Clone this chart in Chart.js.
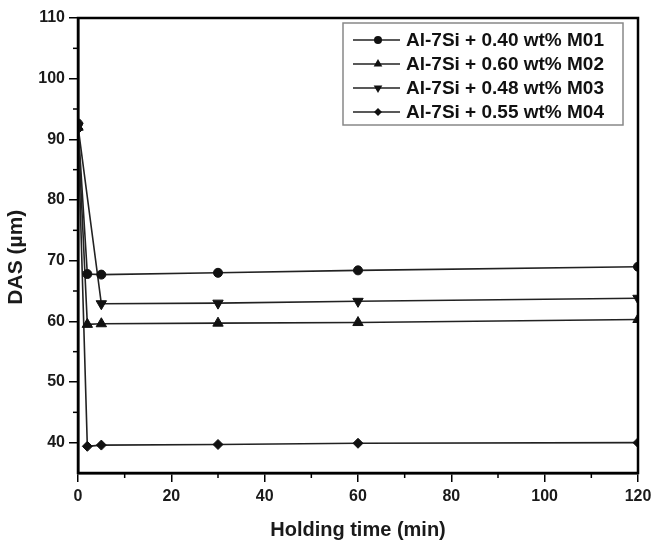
<!DOCTYPE html>
<html>
<head>
<meta charset="utf-8">
<script src="https://cdn.jsdelivr.net/npm/chart.js@4"></script>
<style>
  html, body { margin: 0; padding: 0; background: #fff; }
  #wrap { width: 661px; height: 540px; }
</style>
</head>
<body>
<div id="wrap"><canvas id="grafico"></canvas></div>
<script>
// datos
const tiempos = [0, 2, 5, 30, 60, 120];
const tiemposM03 = [0, 5, 30, 60, 120];
const dasM01 = [92.6, 67.8, 67.7, 68.0, 68.4, 69.0];
const dasM02 = [92.0, 59.5, 59.6, 59.7, 59.8, 60.3];
const dasM03 = [92.2, 62.9, 63.0, 63.3, 63.8];
const dasM04 = [91.7, 39.4, 39.6, 39.7, 39.9, 40.0];
const etiquetas = ['Al-7Si + 0.40 wt% M01', 'Al-7Si + 0.60 wt% M02', 'Al-7Si + 0.48 wt% M03', 'Al-7Si + 0.55 wt% M04'];
const ticksX = [0, 20, 40, 60, 80, 100, 120];
const ticksY = [40, 50, 60, 70, 80, 90, 100, 110];

const fuente = '"Liberation Sans", Arial, sans-serif';

function puntos(xs, ys) {
    return xs.map((x, i) => ({x: x, y: ys[i]}));
}

function serie(label, xs, ys, estilo, radio, rot) {
    return {
        label: label,
        data: puntos(xs, ys),
        borderColor: '#222',
        backgroundColor: '#111',
        pointBorderColor: '#111',
        borderWidth: 1.6,
        pointBorderWidth: 1,
        pointStyle: estilo,
        rotation: rot || 0,
        pointRadius: radio,
        clip: 0,
        tension: 0,
        fill: false
    };
}

// marcas menores, caja del grafico y leyenda
const extras = {
    id: 'extras',
    afterDraw(chart) {
        const c = chart.ctx;
        const a = chart.chartArea;
        const sx = chart.scales.x, sy = chart.scales.y;
        c.save();
        c.strokeStyle = '#000';
        c.lineWidth = 1.5;
        // minor ticks
        for (let v = 10; v < 120; v += 20) {
            const px = sx.getPixelForValue(v);
            c.beginPath(); c.moveTo(px, a.bottom); c.lineTo(px, a.bottom + 5); c.stroke();
        }
        for (let v = 45; v < 110; v += 10) {
            const py = sy.getPixelForValue(v);
            c.beginPath(); c.moveTo(a.left, py); c.lineTo(a.left - 5, py); c.stroke();
        }
        // caja
        c.lineWidth = 2.5;
        c.strokeRect(a.left, a.top, a.right - a.left, a.bottom - a.top);

        // leyenda
        const bx = 343, by = 23, bw = 280, bh = 102;
        c.fillStyle = '#fff';
        c.fillRect(bx, by, bw, bh);
        c.strokeStyle = '#888';
        c.lineWidth = 1.5;
        c.strokeRect(bx, by, bw, bh);
        c.font = 'bold 19px ' + fuente;
        c.textBaseline = 'middle';
        chart.data.datasets.forEach((ds, i) => {
            const y = by + 17 + i * 24;
            c.strokeStyle = '#222';
            c.lineWidth = 1.5;
            c.beginPath(); c.moveTo(bx + 10, y); c.lineTo(bx + 57, y); c.stroke();
            c.fillStyle = '#111';
            const r = ds.pointStyle === 'triangle' ? 5 : 4;
            Chart.helpers.drawPoint(c, {pointStyle: ds.pointStyle, radius: r, rotation: ds.rotation}, bx + 35, y);
            c.fillStyle = '#111';
            c.fillText(ds.label, bx + 63, y + 1);
        });
        c.restore();
    }
};

document.addEventListener('DOMContentLoaded', function () {
    const ctx = document.getElementById('grafico').getContext('2d');
    new Chart(ctx, {
        type: 'line',
        data: {
            datasets: [
                serie(etiquetas[0], tiempos, dasM01, 'circle', 4.5),
                serie(etiquetas[1], tiempos, dasM02, 'triangle', 6),
                serie(etiquetas[2], tiemposM03, dasM03, 'triangle', 6, 180),
                serie(etiquetas[3], tiempos, dasM04, 'rectRot', 5)
            ]
        },
        options: {
            responsive: true,
            maintainAspectRatio: false,
            animation: false,
            layout: { padding: { top: 18, right: 23, left: 0, bottom: 0 } },
            plugins: {
                legend: { display: false },
                tooltip: { enabled: false }
            },
            scales: {
                x: {
                    type: 'linear',
                    min: 0,
                    max: 120,
                    afterBuildTicks: s => { s.ticks = ticksX.map(v => ({value: v})); },
                    afterFit: s => { s.height = 67; },
                    border: { display: true, color: '#000', width: 2.5 },
                    grid: { drawOnChartArea: false, color: '#000', tickLength: 9, lineWidth: 1.5 },
                    ticks: { color: '#1a1a1a', font: { family: fuente, size: 16, weight: 'bold' }, padding: 5, maxRotation: 0 },
                    title: { display: true, text: 'Holding time (min)', color: '#1a1a1a', font: { family: fuente, size: 20, weight: 'bold' }, padding: { top: 8, bottom: -2 } }
                },
                y: {
                    min: 35,
                    max: 110,
                    afterBuildTicks: s => { s.ticks = ticksY.map(v => ({value: v})); },
                    afterFit: s => { s.width = 78; },
                    border: { display: true, color: '#000', width: 2.5 },
                    grid: { drawOnChartArea: false, color: '#000', tickLength: 9, lineWidth: 1.5 },
                    ticks: { color: '#1a1a1a', font: { family: fuente, size: 16, weight: 'bold' }, padding: 4 },
                    title: { display: true, text: 'DAS (\u00b5m)    ', color: '#1a1a1a', font: { family: fuente, size: 21, weight: 'bold' }, padding: { bottom: 2 } }
                }
            }
        },
        plugins: [extras]
    });
});
</script>
</body>
</html>
